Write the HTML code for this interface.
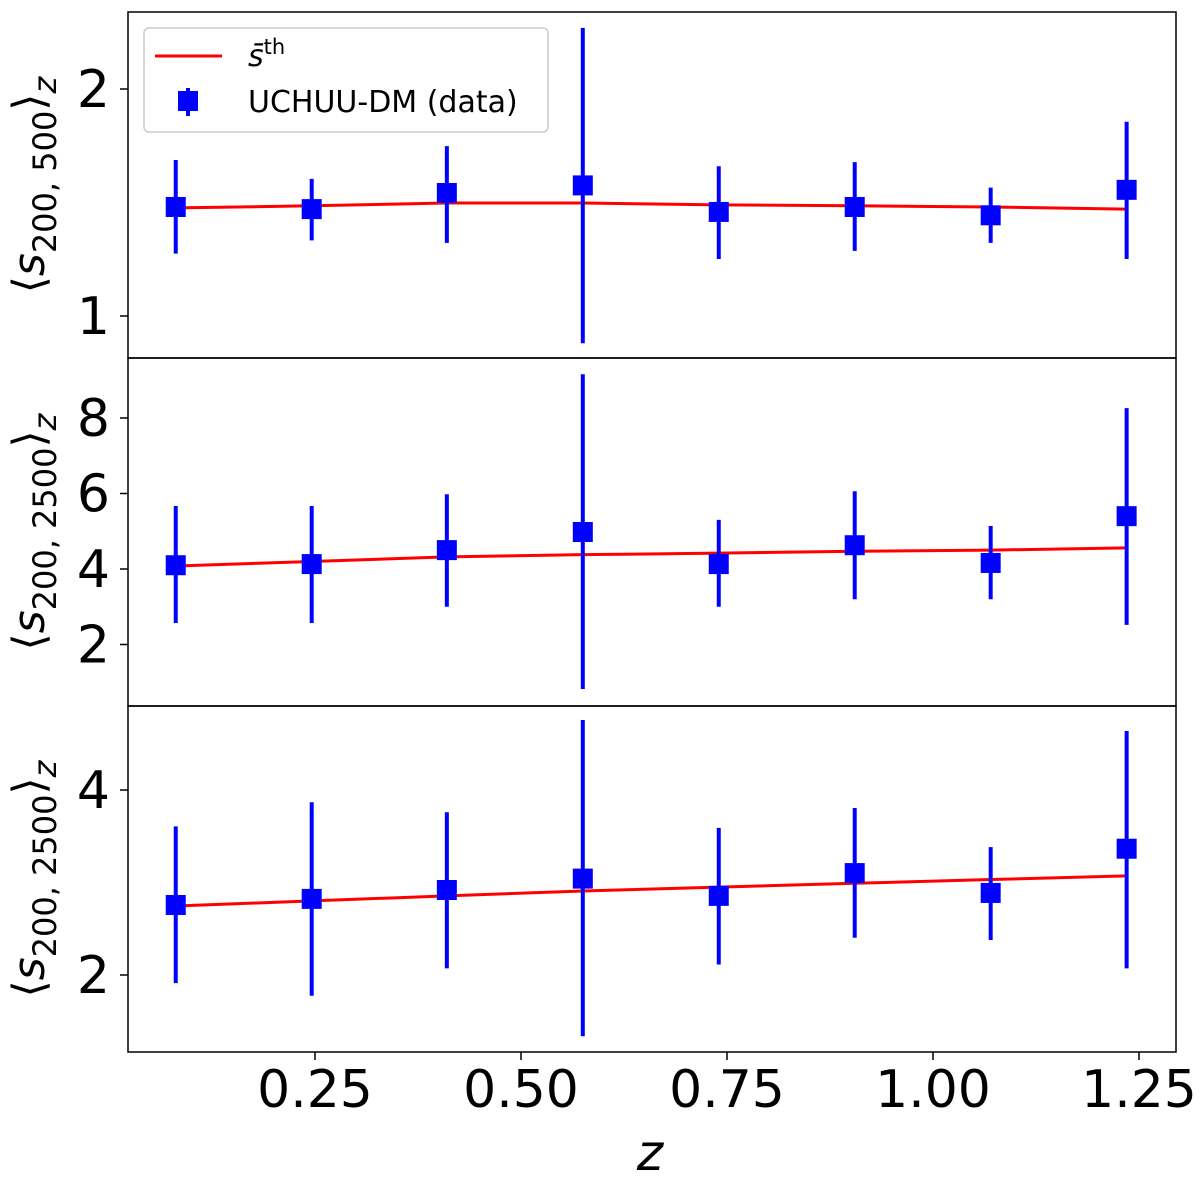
<!DOCTYPE html>
<html><head><meta charset="utf-8"><style>
html,body{margin:0;padding:0;background:#fff;}
svg text{font-family:"DejaVu Sans","Liberation Sans",sans-serif;}
</style></head><body>
<svg id="chart" width="1200" height="1187" viewBox="0 0 1200 1187" xmlns="http://www.w3.org/2000/svg"></svg>
<script>
const redshifts=[0.081,0.246,0.41,0.575,0.74,0.905,1.07,1.235];
const xTicks=[0.25,0.5,0.75,1.0,1.25];
const xTickLabels=["0.25","0.50","0.75","1.00","1.25"];
// panel 1
const p1Vals=[1.395,1.386,1.456,1.49,1.374,1.395,1.36,1.47];
const p1Hi=[1.61,1.52,1.68,2.41,1.58,1.6,1.48,1.81];
const p1Lo=[1.21,1.26,1.25,0.92,1.19,1.22,1.25,1.19];
const p1Model=[1.391,1.400,1.412,1.412,1.404,1.400,1.395,1.386];
const p1Ticks=[1,2];
// panel 2
const p2Vals=[4.1,4.13,4.5,4.98,4.13,4.63,4.16,5.4];
const p2Hi=[5.67,5.67,5.98,9.16,5.3,6.06,5.14,8.26];
const p2Lo=[2.57,2.57,3.0,0.82,3.0,3.2,3.2,2.52];
const p2Model=[4.08,4.2,4.32,4.38,4.42,4.47,4.5,4.56];
const p2Ticks=[2,4,6,8];
// panel 3
const p3Vals=[2.6,2.66,2.75,2.87,2.69,2.93,2.72,3.21];
const p3Hi=[3.49,3.82,3.68,5.2,3.47,3.74,3.23,4.99];
const p3Lo=[1.94,1.85,2.05,1.59,2.08,2.3,2.28,2.05];
const p3Model=[2.59,2.64,2.69,2.74,2.78,2.82,2.86,2.9];
const p3Ticks=[2,4];

const svg=document.getElementById('chart');
const NS='http://www.w3.org/2000/svg';
function mk(tag,attrs,parent){const e=document.createElementNS(NS,tag);for(const k in attrs)e.setAttribute(k,attrs[k]);(parent||svg).appendChild(e);return e;}
const L=128,R=1176;
const xS=z=>315+(z-0.25)*824;

const panels=[
 {top:12,bot:358,y:v=>316-Math.log2(v)*227,vals:p1Vals,hi:p1Hi,lo:p1Lo,model:p1Model,ticks:p1Ticks,name:'panel-s200-500',lab:'500'},
 {top:358,bot:706,y:v=>569+(4-v)*37.75,vals:p2Vals,hi:p2Hi,lo:p2Lo,model:p2Model,ticks:p2Ticks,name:'panel-s200-2500-a',lab:'2500'},
 {top:706,bot:1052,y:v=>975-Math.log2(v/2)*185,vals:p3Vals,hi:p3Hi,lo:p3Lo,model:p3Model,ticks:p3Ticks,name:'panel-s200-2500-b',lab:'2500'}
];
panels.forEach((p)=>{
 const g=mk('g',{});
 
 
 p.ticks.forEach(t=>{
  const yy=p.y(t);
  mk('line',{x1:L-8,x2:L,y1:yy,y2:yy,stroke:'#000','stroke-width':1.5},g);
  const tx=mk('text',{x:L-18,y:yy+18,'text-anchor':'end','font-size':52},g);
  tx.textContent=String(t);
  
  
 });
 const pts=redshifts.map((z,i)=>xS(z)+','+p.y(p.model[i])).join(' ');
 const pl=mk('polyline',{points:pts,fill:'none',stroke:'#ff0000','stroke-width':3},g);
 
 
 redshifts.forEach((z,i)=>{
  const x=xS(z);
  const eb=mk('line',{x1:x,x2:x,y1:p.y(p.hi[i]),y2:p.y(p.lo[i]),stroke:'#0000ff','stroke-width':4},g);
  
  
  const yy=p.y(p.vals[i]);
  const r=mk('rect',{x:x-10,y:yy-10,width:20,height:20,fill:'#0000ff'},g);
  
  
 });
 mk('rect',{x:L,y:p.top,width:R-L,height:p.bot-p.top,fill:'none',stroke:'#000','stroke-width':1.5},g);
 const cy=(p.top+p.bot)/2;
 const yl=mk('text',{x:0,y:0,transform:`translate(44,${cy}) rotate(-90)`,'text-anchor':'middle','font-size':44},g);
 yl.innerHTML=`⟨<tspan font-style="italic">s</tspan><tspan font-size="32" dy="12">200, ${p.lab}</tspan><tspan dy="-12">⟩</tspan><tspan font-style="italic" font-size="32" dy="12">z</tspan>`;
 
 
});
xTicks.forEach((t,i)=>{
 const x=xS(t);
 mk('line',{x1:x,x2:x,y1:1052,y2:1060,stroke:'#000','stroke-width':1.5});
 const tx=mk('text',{x:x,y:1107,'text-anchor':'middle','font-size':52});
 tx.textContent=xTickLabels[i];
 
 
});
const xl=mk('text',{x:650,y:1170,'text-anchor':'middle','font-size':50,'font-style':'italic'});
xl.textContent='z';


const lg=mk('g',{});


mk('rect',{x:144,y:28,width:404,height:104,rx:5,fill:'#fff',stroke:'#ccc','stroke-width':1.5},lg);
mk('line',{x1:155,x2:222,y1:56,y2:56,stroke:'#ff0000','stroke-width':3},lg);
const t1=mk('text',{x:248,y:66,'font-size':30},lg);
t1.innerHTML='<tspan font-style="italic">s̄</tspan><tspan font-size="21" dy="-12">th</tspan>';


mk('line',{x1:188,x2:188,y1:88,y2:116,stroke:'#0000ff','stroke-width':4},lg);
mk('rect',{x:178,y:91,width:20,height:20,fill:'#0000ff'},lg);
const t2=mk('text',{x:248,y:112,'font-size':30},lg);
t2.textContent='UCHUU-DM (data)';


</script>
</body></html>
